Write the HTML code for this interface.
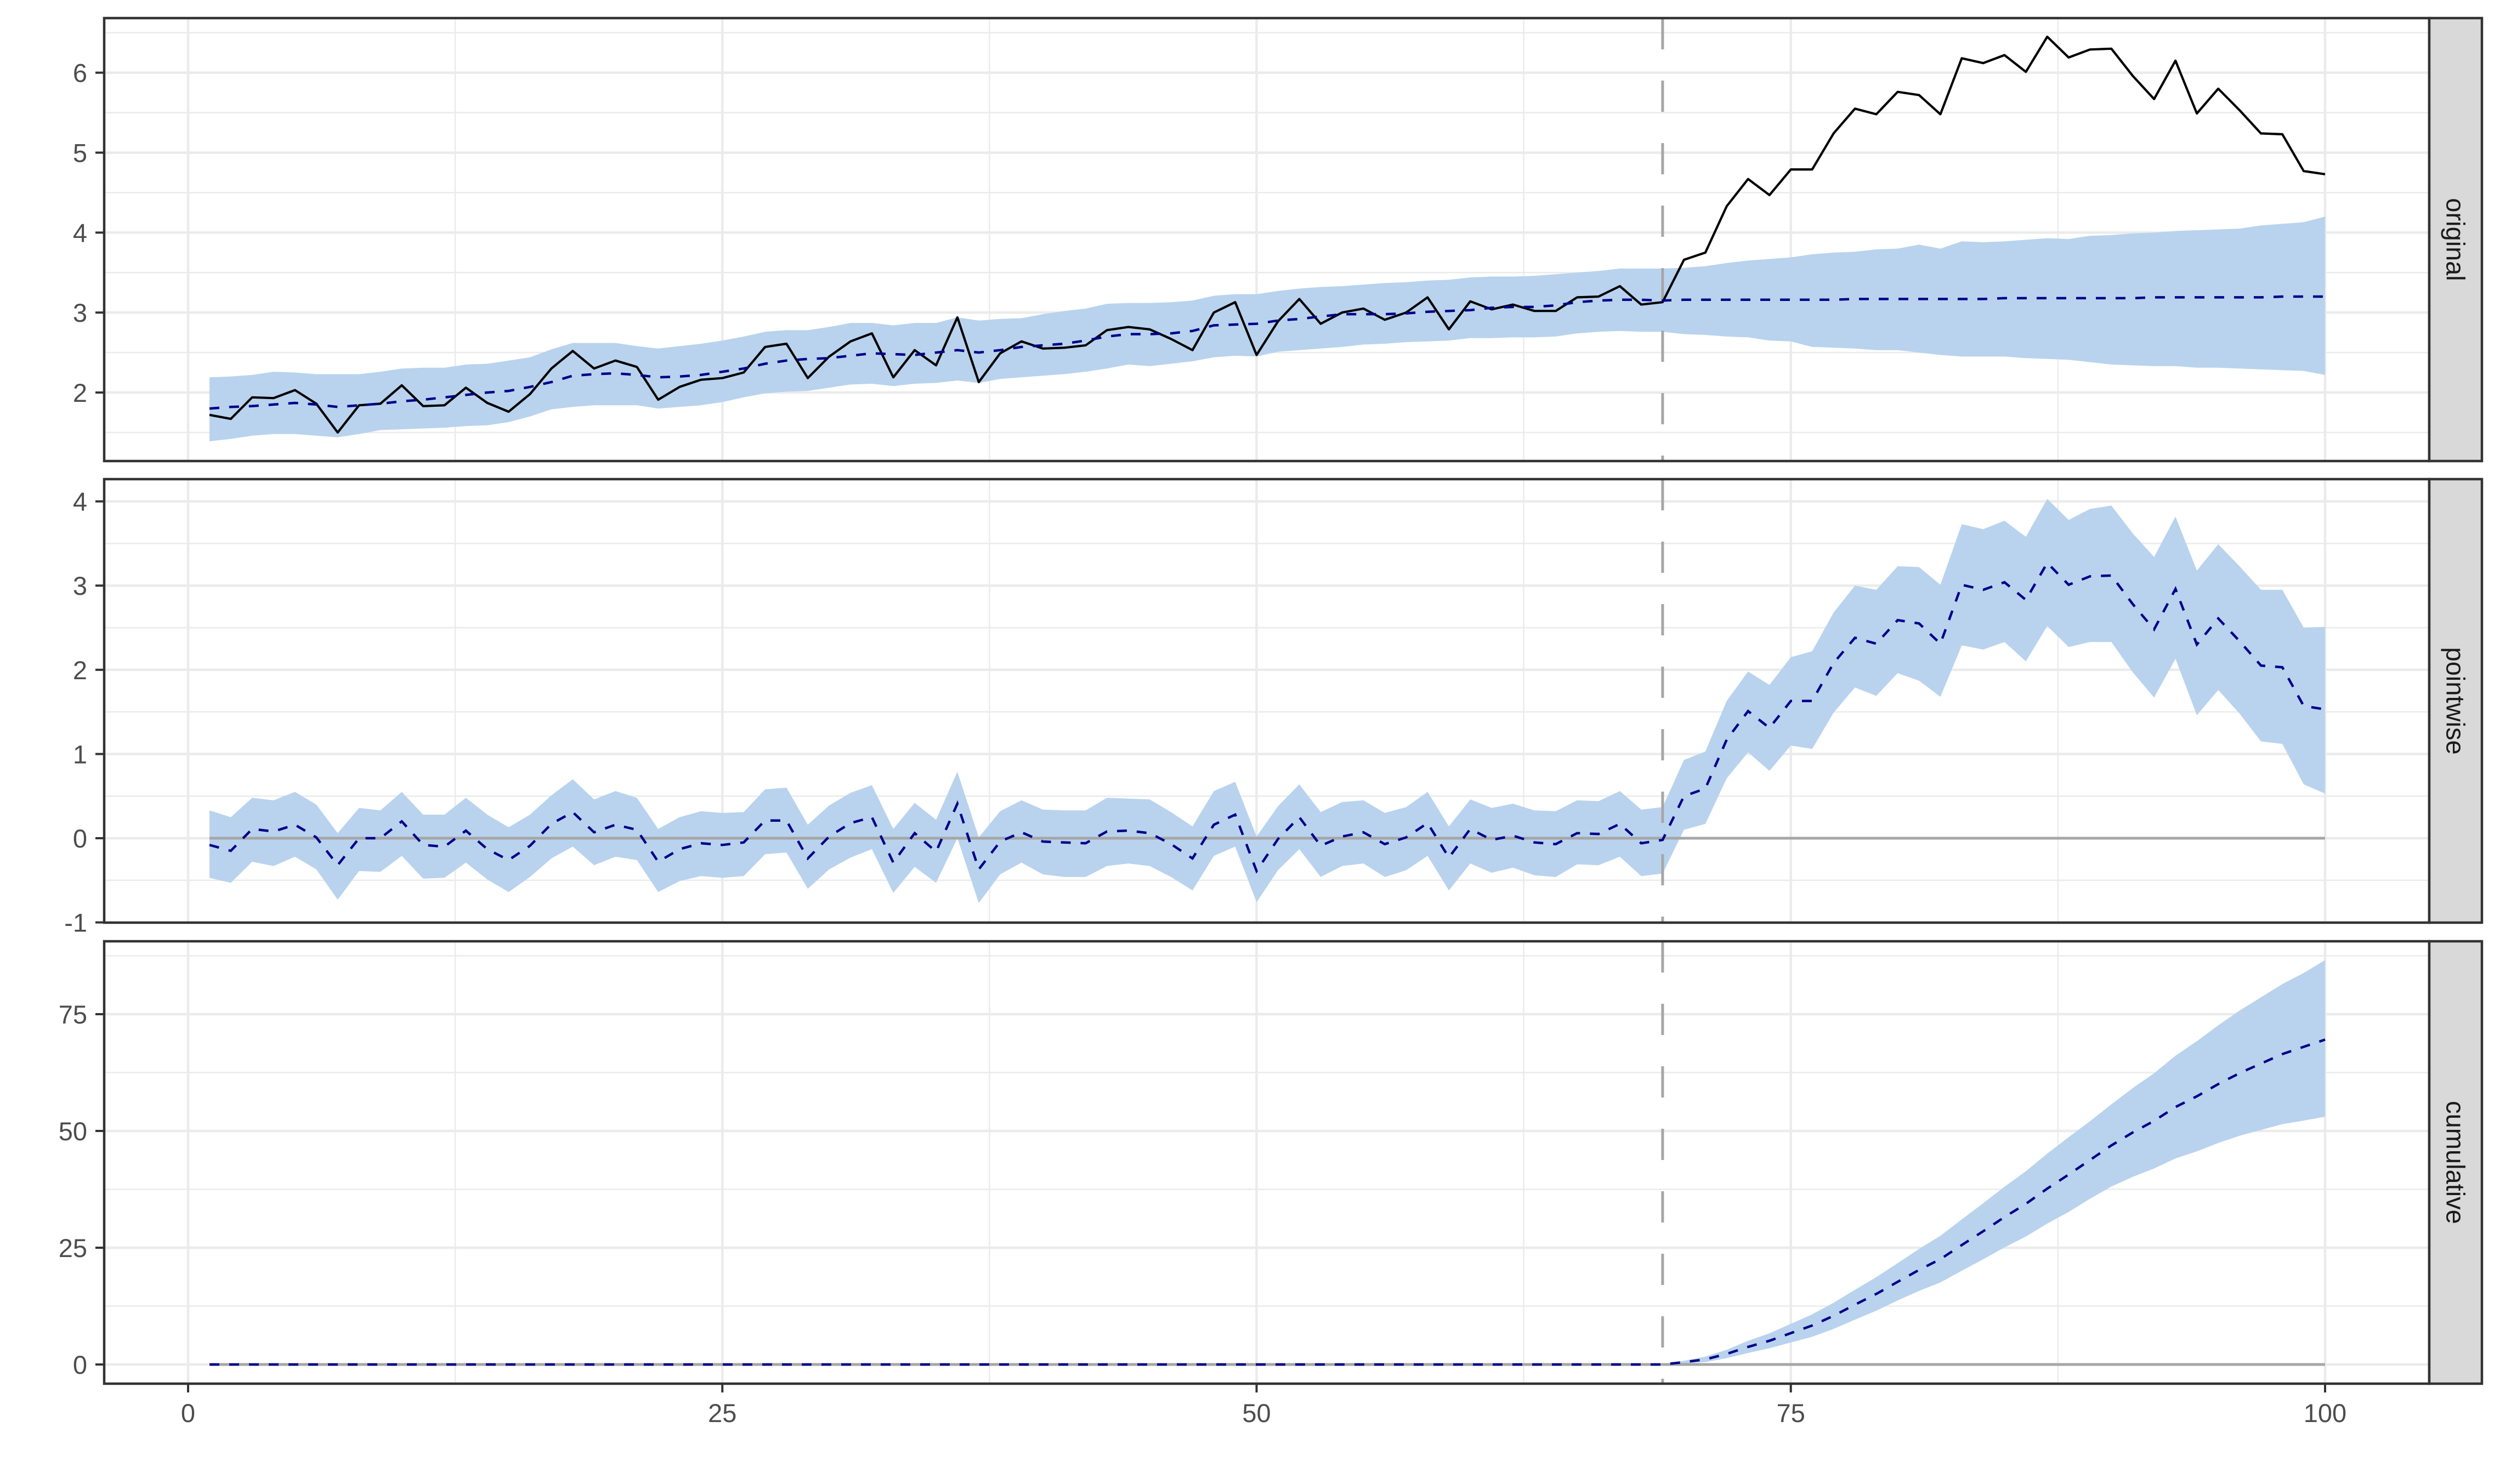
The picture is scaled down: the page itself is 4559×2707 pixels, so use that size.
<!DOCTYPE html>
<html><head><meta charset="utf-8"><style>
html,body{margin:0;padding:0;background:#fff;}
svg{display:block;font-family:"Liberation Sans",Arial,sans-serif;}
</style></head><body>
<svg id="chart" width="4559" height="2707" viewBox="0 0 4559 2707" xmlns="http://www.w3.org/2000/svg"></svg>
<script>
// ---- data ----
var observed = [1.72,1.67,1.94,1.93,2.03,1.86,1.50,1.84,1.86,2.09,1.83,1.84,2.06,1.87,1.76,1.98,2.30,2.52,2.30,2.40,2.32,1.91,2.07,2.16,2.18,2.25,2.57,2.61,2.18,2.45,2.64,2.74,2.19,2.53,2.34,2.94,
2.13,2.49,2.64,2.55,2.56,2.59,2.78,2.82,2.79,2.67,2.53,3.00,3.13,2.47,2.89,3.17,2.86,3.00,3.05,2.91,3.00,3.19,2.79,3.14,3.04,3.10,3.02,3.02,3.19,3.20,3.33,3.10,3.13,3.66,
3.75,4.33,4.67,4.47,4.79,4.79,5.24,5.55,5.48,5.76,5.72,5.48,6.18,6.12,6.22,6.01,6.45,6.19,6.29,6.30,5.96,5.67,6.15,5.49,5.80,5.53,5.24,5.23,4.77,4.73];
var predMean = [1.80,1.82,1.83,1.85,1.87,1.85,1.82,1.84,1.86,1.89,1.91,1.94,1.97,2.00,2.02,2.07,2.13,2.21,2.23,2.24,2.22,2.19,2.20,2.22,2.26,2.30,2.36,2.40,2.42,2.43,2.46,2.49,2.48,2.47,2.50,2.53,
2.50,2.53,2.57,2.59,2.61,2.65,2.70,2.73,2.73,2.74,2.77,2.84,2.85,2.86,2.90,2.92,2.95,2.98,2.98,2.98,2.99,3.01,3.02,3.03,3.06,3.07,3.07,3.09,3.13,3.15,3.16,3.16,3.15,3.16,
3.16,3.16,3.16,3.16,3.16,3.16,3.16,3.17,3.17,3.17,3.17,3.17,3.17,3.17,3.18,3.18,3.18,3.18,3.18,3.18,3.18,3.19,3.19,3.19,3.19,3.19,3.19,3.20,3.20,3.20];
var predUpper = [2.19,2.20,2.22,2.26,2.25,2.23,2.23,2.23,2.26,2.30,2.31,2.31,2.35,2.36,2.40,2.44,2.54,2.62,2.62,2.62,2.58,2.55,2.58,2.61,2.65,2.70,2.76,2.78,2.78,2.82,2.87,2.87,2.84,2.87,2.87,2.94,
2.90,2.92,2.93,2.98,3.02,3.05,3.11,3.12,3.12,3.13,3.15,3.21,3.23,3.23,3.27,3.30,3.32,3.33,3.35,3.37,3.38,3.40,3.41,3.44,3.45,3.45,3.46,3.48,3.50,3.52,3.55,3.55,3.55,3.56,
3.58,3.62,3.65,3.67,3.69,3.73,3.75,3.76,3.79,3.80,3.85,3.80,3.89,3.88,3.89,3.91,3.93,3.92,3.96,3.97,3.99,4.00,4.02,4.03,4.04,4.05,4.09,4.11,4.13,4.20];
var predLower = [1.39,1.42,1.46,1.48,1.48,1.46,1.44,1.48,1.53,1.54,1.55,1.56,1.58,1.59,1.63,1.70,1.79,1.82,1.84,1.84,1.84,1.80,1.82,1.84,1.88,1.94,1.99,2.01,2.02,2.06,2.10,2.11,2.08,2.11,2.12,2.15,
2.12,2.17,2.19,2.21,2.23,2.26,2.30,2.35,2.33,2.36,2.39,2.44,2.46,2.45,2.51,2.53,2.55,2.57,2.60,2.61,2.63,2.64,2.65,2.68,2.68,2.69,2.69,2.70,2.74,2.76,2.77,2.76,2.76,2.73,
2.72,2.70,2.69,2.65,2.64,2.57,2.56,2.55,2.53,2.53,2.50,2.47,2.45,2.45,2.45,2.43,2.42,2.41,2.38,2.35,2.34,2.33,2.33,2.31,2.31,2.30,2.29,2.28,2.27,2.22];
// cumulative band, time points 69..100
var cumUpper = [0,0.8,1.69,3.16,5.07,6.68,8.71,10.74,13.22,16.0,18.71,21.7,24.75,27.56,31.07,34.52,38.06,41.39,45.16,48.67,52.08,55.7,59.18,62.36,66.12,69.22,72.63,75.77,78.62,81.45,83.82,86.6];
var cumLower = [0,0.2,0.49,1.36,2.47,3.48,4.71,5.94,7.62,9.6,11.51,13.7,15.75,17.56,20.07,22.52,25.06,27.39,30.16,32.67,35.48,38.1,40.18,41.96,44.12,45.62,47.43,48.97,50.22,51.45,52.22,53.05];
var interventionTime = 69;
var xTicks = [0,25,50,75,100];
var yTicks1 = [2,3,4,5,6];
var yTicks2 = [-1,0,1,2,3,4];
var yTicks3 = [0,25,50,75];
var panelNames = ["original","pointwise","cumulative"];

// ---- layout ----
var NS = "http://www.w3.org/2000/svg";
var svg = document.getElementById("chart");
var PL = 190, PR = 4430, SR = 4526;
function X(t){ return 343 + (t) * 38.97; }
var panels = [
  {top:33, bot:841, y:function(v){return 716-(v-2)*145.85;}, major:yTicks1, minor:[1.5,2.5,3.5,4.5,5.5,6.5]},
  {top:874, bot:1683, y:function(v){return 1529-v*153.6;}, major:yTicks2, minor:[-0.5,0.5,1.5,2.5,3.5]},
  {top:1717, bot:2524, y:function(v){return 2489-v*8.52;}, major:yTicks3, minor:[12.5,37.5,62.5,87.5]}
];
function el(tag, attrs, parent){
  var e = document.createElementNS(NS, tag);
  for (var k in attrs) e.setAttribute(k, attrs[k]);
  (parent||svg).appendChild(e);
  return e;
}
function pathFrom(xs, ys){
  var d = "";
  for (var i=0;i<xs.length;i++) d += (i? "L":"M") + xs[i].toFixed(1) + "," + ys[i].toFixed(1);
  return d;
}
function bandPath(ts, lo, hi, yf){
  var d = "";
  for (var i=0;i<ts.length;i++) d += (i?"L":"M") + X(ts[i]).toFixed(1) + "," + yf(hi[i]).toFixed(1);
  for (var j=ts.length-1;j>=0;j--) d += "L" + X(ts[j]).toFixed(1) + "," + yf(lo[j]).toFixed(1);
  return d + "Z";
}
var n = observed.length;
var ts = []; for (var i=0;i<n;i++) ts.push(i+1);
var pwMean = [], pwLo = [], pwHi = [];
for (var i=0;i<n;i++){ pwMean.push(observed[i]-predMean[i]); pwLo.push(observed[i]-predUpper[i]); pwHi.push(observed[i]-predLower[i]); }
var cumMean = [], s = 0;
for (var i=0;i<n;i++){ if (ts[i] > interventionTime) s += pwMean[i]; cumMean.push(s); }
var cumTs = []; for (var t=interventionTime; t<=100; t++) cumTs.push(t);

panels.forEach(function(p, pi){
  var g = el("g", {});
  
  
  var bg = el("rect", {x:PL, y:p.top, width:PR-PL, height:p.bot-p.top, fill:"#fff"}, g);
  
  
  p.minor.forEach(function(v){
    var l = el("line", {x1:PL, x2:PR, y1:p.y(v), y2:p.y(v), stroke:"#ebebeb", "stroke-width":2.5}, g);
    
    
  });
  [12.5,37.5,62.5,87.5].forEach(function(t){
    var l = el("line", {x1:X(t), x2:X(t), y1:p.top, y2:p.bot, stroke:"#ebebeb", "stroke-width":2.5}, g);
    
    
  });
  p.major.forEach(function(v){
    var l = el("line", {x1:PL, x2:PR, y1:p.y(v), y2:p.y(v), stroke:"#ebebeb", "stroke-width":4.5}, g);
    
    
    var tk = el("line", {x1:PL-16, x2:PL, y1:p.y(v), y2:p.y(v), stroke:"#333", "stroke-width":4}, g);
    
    
    var tx = el("text", {x:PL-31, y:p.y(v)+17, "text-anchor":"end", "font-size":47, fill:"#4d4d4d"}, g);
    tx.textContent = String(v);
    
    
  });
  xTicks.forEach(function(t){
    var l = el("line", {x1:X(t), x2:X(t), y1:p.top, y2:p.bot, stroke:"#ebebeb", "stroke-width":4.5}, g);
    
    
  });
  var band, mean;
  if (pi===0){
    band = el("path", {d:bandPath(ts, predLower, predUpper, p.y), fill:"#b9d3ee"}, g);
  } else if (pi===1){
    band = el("path", {d:bandPath(ts, pwLo, pwHi, p.y), fill:"#b9d3ee"}, g);
  } else {
    band = el("path", {d:bandPath(cumTs, cumLower, cumUpper, p.y), fill:"#b9d3ee"}, g);
  }
  
  
  if (pi>0){
    var z = el("line", {x1:X(1), x2:X(100), y1:p.y(0), y2:p.y(0), stroke:"#a6a6a6", "stroke-width":5}, g);
    
    
  }
  var vl = el("line", {x1:X(interventionTime), x2:X(interventionTime), y1:p.top, y2:p.bot, stroke:"#a6a6a6", "stroke-width":5, "stroke-dasharray":"57,57"}, g);
  
  
  var xs = ts.map(X);
  if (pi===0){
    var ob = el("path", {d:pathFrom(xs, observed.map(p.y)), fill:"none", stroke:"#000", "stroke-width":4.2, "stroke-linejoin":"round"}, g);
    
    
    mean = el("path", {d:pathFrom(xs, predMean.map(p.y)), fill:"none", stroke:"#00008b", "stroke-width":4.5, "stroke-dasharray":"18,18"}, g);
  } else if (pi===1){
    mean = el("path", {d:pathFrom(xs, pwMean.map(p.y)), fill:"none", stroke:"#00008b", "stroke-width":4.5, "stroke-dasharray":"18,18"}, g);
  } else {
    mean = el("path", {d:pathFrom(xs, cumMean.map(p.y)), fill:"none", stroke:"#00008b", "stroke-width":4.5, "stroke-dasharray":"18,18"}, g);
  }
  
  
  var br = el("rect", {x:PL, y:p.top, width:PR-PL, height:p.bot-p.top, fill:"none", stroke:"#333", "stroke-width":4.5}, g);
  
  
  var st = el("rect", {x:PR, y:p.top, width:SR-PR, height:p.bot-p.top, fill:"#d9d9d9", stroke:"#333", "stroke-width":4.5}, g);
  
  
  var cy = (p.top+p.bot)/2, cx = (PR+SR)/2;
  var sl = el("text", {x:cx, y:cy, "text-anchor":"middle", "dominant-baseline":"central", "font-size":47, fill:"#1a1a1a", transform:"rotate(90 "+cx+" "+cy+")"}, g);
  sl.textContent = panelNames[pi];
  
  
});
xTicks.forEach(function(t){
  var tk = el("line", {x1:X(t), x2:X(t), y1:2524, y2:2540, stroke:"#333", "stroke-width":4});
  
  
  var tx = el("text", {x:X(t), y:2594, "text-anchor":"middle", "font-size":47, fill:"#4d4d4d"});
  tx.textContent = String(t);
  
  
});
</script>
</body></html>
